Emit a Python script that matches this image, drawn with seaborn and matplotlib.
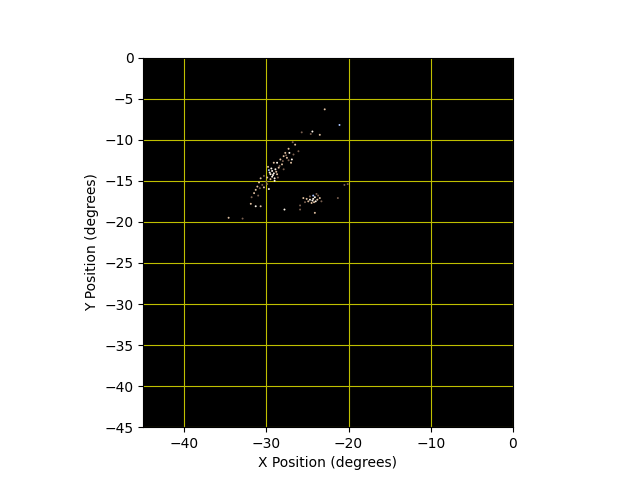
import matplotlib
matplotlib.use("Agg")
import matplotlib.pyplot as plt
import seaborn as sns
import pandas as pd

# star positions (degrees), with a rough colour class
x_deg = [-22.9, -21.1, -25.7, -24.4, -24.6, -23.5,
         -26.8, -26.5, -27.3, -27.2, -27.7, -27.9, -26.9, -26.1, -27.5, -27.0,
         -28.3, -28.7, -29.1, -28.1, -27.9, -28.5, -28.9, -29.3, -29.1, -29.5,
         -28.7, -29.3, -29.7, -29.0, -29.9, -29.4, -29.6, -29.2, -28.8, -29.5, -29.0,
         -30.3, -30.7, -30.9, -30.5, -31.1, -31.3, -30.8, -30.3, -29.7, -31.5,
         -31.8, -31.3, -31.9, -30.7, -32.9, -34.6, -27.8, -25.9, -25.9,
         -25.5, -25.1, -24.7, -24.3, -24.1, -23.8, -23.5, -23.3, -24.5, -24.9,
         -24.3, -23.7, -24.1, -24.7, -24.0, -24.4, -24.2, -25.3, -23.9,
         -20.5, -21.3, -20.1,
         -28.4, -28.0, -27.6, -29.8, -30.0, -28.6, -27.3, -26.7, -31.0, -29.9]
y_deg = [-6.3, -8.2, -9.1, -9.0, -9.3, -9.4,
         -10.3, -10.6, -11.1, -11.6, -11.6, -12.0, -12.4, -11.4, -12.2, -12.8,
         -12.4, -12.8, -12.8, -13.0, -13.6, -13.4, -13.6, -13.8, -14.1, -14.2,
         -14.2, -14.5, -13.7, -14.7, -14.6, -13.5, -14.0, -14.3, -13.9, -14.8, -15.0,
         -14.4, -14.7, -15.2, -15.5, -15.7, -16.1, -15.9, -15.8, -16.0, -16.5,
         -17.0, -18.1, -17.8, -18.1, -19.6, -19.5, -18.5, -18.5, -18.0,
         -17.1, -17.2, -17.3, -17.2, -17.0, -17.3, -17.1, -17.5, -17.7, -17.5,
         -16.8, -16.8, -18.9, -16.9, -17.5, -17.4, -17.6, -17.6, -16.6,
         -15.5, -17.1, -15.4,
         -13.2, -12.6, -11.9, -13.3, -15.1, -14.6, -12.5, -11.8, -16.8, -15.4]
star_class = ["t", "b", "d", "w", "d", "t",
              "d", "t", "t", "w", "t", "t", "w", "d", "t", "t",
              "t", "w", "t", "t", "d", "t", "w", "w", "w", "w",
              "t", "w", "b", "w", "t", "w", "w", "w", "t", "t", "w",
              "d", "t", "t", "d", "t", "t", "d", "t", "w", "t",
              "d", "w", "t", "t", "d", "t", "w", "d", "d",
              "t", "t", "w", "w", "w", "t", "t", "d", "t", "t",
              "b", "d", "t", "d", "w", "w", "t", "d", "d",
              "d", "d", "d",
              "d", "d", "d", "t", "d", "d", "d", "d", "d", "d"]

palette = {"w": "#fff6ea", "t": "#e0c0a0", "d": "#7a6050", "b": "#a8c4ff"}

df = pd.DataFrame({"x": x_deg, "y": y_deg, "cls": star_class})

fig, ax = plt.subplots(figsize=(6.4, 4.8), dpi=100)
ax.set_facecolor("black")

sns.scatterplot(data=df, x="x", y="y", hue="cls", palette=palette,
                s=2, linewidth=0, legend=False, ax=ax, zorder=3)

ax.set_xlim(-45, 0)
ax.set_ylim(-45, 0)
ax.set_aspect("equal")
ax.set_axisbelow(True)
ax.grid(True, color="y", linewidth=0.8)
ax.set_xlabel("X Position (degrees)")
ax.set_ylabel("Y Position (degrees)")

plt.savefig("out.png", dpi=100)
